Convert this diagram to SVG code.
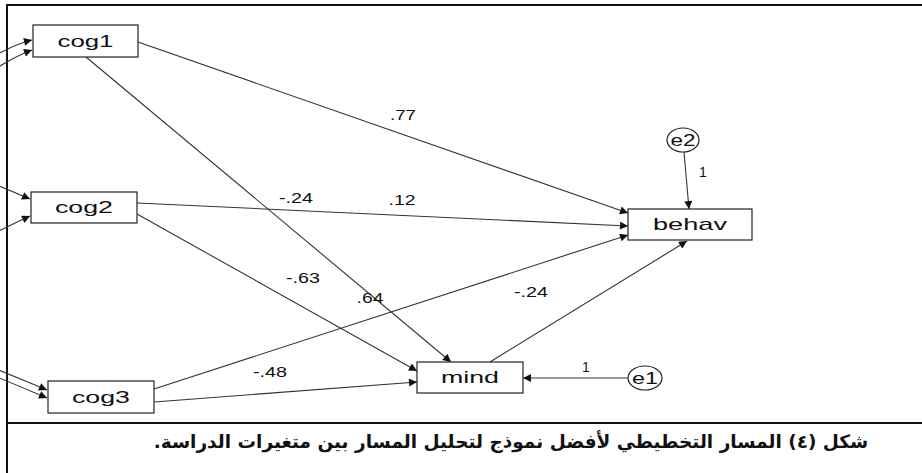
<svg xmlns="http://www.w3.org/2000/svg" width="922" height="473" viewBox="0 0 922 473">
<style>
.frame{stroke:#111;stroke-width:2;fill:none}
.box{fill:#fff;stroke:#222;stroke-width:1.2}
.ell{fill:#fff;stroke:#222;stroke-width:1.2}
.lbl{font-family:"Liberation Sans",Arial,sans-serif;font-size:17px;fill:#111;text-anchor:middle}
.coef{font-family:"Liberation Sans",Arial,sans-serif;font-size:14px;fill:#111;text-anchor:middle}
.edge{stroke:#333;stroke-width:1.1;fill:none;marker-end:url(#ah)}
.cap{font-family:"DejaVu Sans","Noto Sans",sans-serif;font-size:18.5px;font-weight:bold;fill:#111}
</style>
<defs>
<marker id="ah" viewBox="0 0 10 10" refX="10" refY="5" markerWidth="9" markerHeight="8" markerUnits="userSpaceOnUse" orient="auto">
<path d="M0,0 L10,5 L0,10 z" fill="#111"/>
</marker>
</defs>
<rect width="922" height="473" fill="#fff"/>
<g id="frame">
<line class="frame" x1="7" y1="5" x2="922" y2="5"/>
<line class="frame" x1="7" y1="4" x2="7" y2="473"/>
<line class="frame" x1="7" y1="423" x2="922" y2="423"/>
</g>
<g id="connectors">
<path class="edge" d="M-40,80 Q0,48 32,40"/>
<path class="edge" d="M-40,95 Q0,62 32,50"/>
<path class="edge" d="M-40,170 Q0,186 30,199"/>
<path class="edge" d="M-40,250 Q0,230 30,216"/>
<path class="edge" d="M-40,355 Q0,370 47,390"/>
<path class="edge" d="M-40,362 Q0,378 47,398"/>
<line class="edge" x1="138" y1="42" x2="628" y2="213"/>
<line class="edge" x1="86" y1="57" x2="451" y2="362"/>
<line class="edge" x1="137" y1="203" x2="628" y2="226"/>
<line class="edge" x1="137" y1="214" x2="417" y2="371"/>
<line class="edge" x1="154" y1="389" x2="628" y2="235"/>
<line class="edge" x1="154" y1="402" x2="417" y2="382"/>
<line class="edge" x1="490" y1="362" x2="687" y2="241"/>
<line class="edge" x1="628" y1="378" x2="523" y2="378"/>
<line class="edge" x1="684" y1="152" x2="689" y2="209"/>
</g>
<g id="labels">
<text class="coef" x="403" y="120" textLength="26" lengthAdjust="spacingAndGlyphs">.77</text>
<text class="coef" x="296" y="203" textLength="34" lengthAdjust="spacingAndGlyphs">-.24</text>
<text class="coef" x="402" y="205" textLength="27" lengthAdjust="spacingAndGlyphs">.12</text>
<text class="coef" x="303" y="283" textLength="34" lengthAdjust="spacingAndGlyphs">-.63</text>
<text class="coef" x="370" y="303" textLength="27" lengthAdjust="spacingAndGlyphs">.64</text>
<text class="coef" x="531" y="297" textLength="34" lengthAdjust="spacingAndGlyphs">-.24</text>
<text class="coef" x="270" y="377" textLength="34" lengthAdjust="spacingAndGlyphs">-.48</text>
<text class="coef" x="586" y="372">1</text>
<text class="coef" x="703" y="177">1</text>
</g>
<g id="cog1"><rect class="box" x="33" y="25" width="105" height="32"/><text class="lbl" x="85.5" y="47" textLength="56" lengthAdjust="spacingAndGlyphs">cog1</text></g>
<g id="cog2"><rect class="box" x="31" y="192" width="106" height="31"/><text class="lbl" x="84" y="213" textLength="58" lengthAdjust="spacingAndGlyphs">cog2</text></g>
<g id="cog3"><rect class="box" x="48" y="381" width="106" height="32"/><text class="lbl" x="101" y="403" textLength="58" lengthAdjust="spacingAndGlyphs">cog3</text></g>
<g id="mind"><rect class="box" x="417" y="362" width="106" height="31"/><text class="lbl" x="470" y="383" textLength="58" lengthAdjust="spacingAndGlyphs">mind</text></g>
<g id="behav"><rect class="box" x="628" y="209" width="124" height="31"/><text class="lbl" x="690" y="230" textLength="74" lengthAdjust="spacingAndGlyphs">behav</text></g>
<g id="e1"><ellipse class="ell" cx="645" cy="378" rx="17" ry="12"/><text class="lbl" x="645" y="384" textLength="26" lengthAdjust="spacingAndGlyphs">e1</text></g>
<g id="e2"><ellipse class="ell" cx="683" cy="140" rx="16" ry="12"/><text class="lbl" x="683" y="146" textLength="25" lengthAdjust="spacingAndGlyphs">e2</text></g>
<g id="caption"><text class="cap" x="511" y="448" text-anchor="middle" direction="rtl">شكل (٤) المسار التخطيطي لأفضل نموذج لتحليل المسار بين متغيرات الدراسة.</text></g>
</svg>
